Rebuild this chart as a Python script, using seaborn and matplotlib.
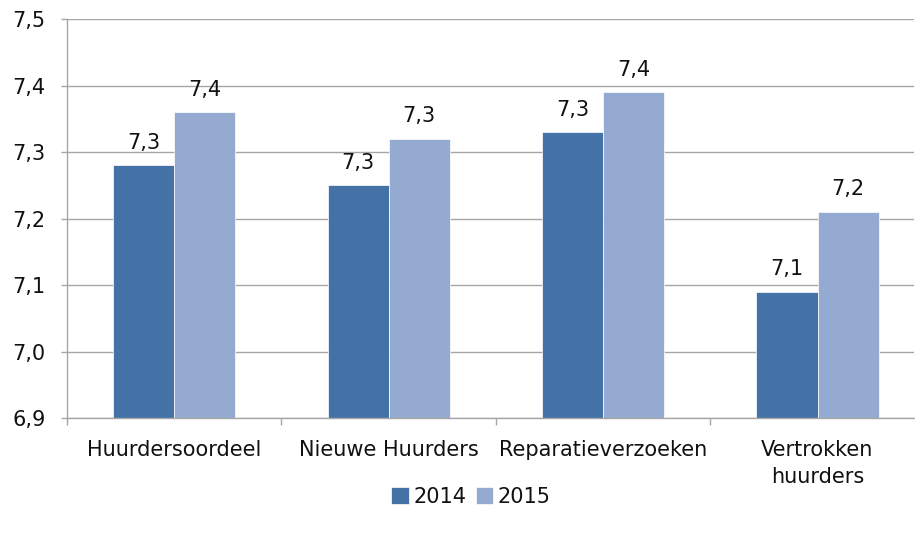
import numpy as np
import pandas as pd
import matplotlib
matplotlib.use("Agg")
import matplotlib.pyplot as plt
from matplotlib.ticker import FixedLocator, FuncFormatter
import seaborn as sns

categories = ["Huurdersoordeel", "Nieuwe Huurders", "Reparatieverzoeken", "Vertrokken\nhuurders"]
years = ["2014", "2015"]
scores_2014 = [7.28, 7.25, 7.33, 7.09]
scores_2015 = [7.36, 7.32, 7.39, 7.21]
bar_colors = ["#4472A7", "#95AAD0"]

df = pd.DataFrame({
    "categorie": categories * 2,
    "jaar": [years[0]] * 4 + [years[1]] * 4,
    "score": scores_2014 + scores_2015,
})


def nl(v):
    # round half up, decimal comma
    return f"{np.floor(v * 10 + 0.5 + 1e-9) / 10:.1f}".replace(".", ",")


sns.set_style("white")
plt.rcParams["font.family"] = ["DejaVu Sans"]
grey = "#a6a6a6"

fig = plt.figure(figsize=(9.15, 5.37), dpi=100)
ax = fig.add_axes([67 / 915, 1 - 418 / 537, (914 - 67) / 915, (418 - 19) / 537])

sns.barplot(data=df, x="categorie", y="score", hue="jaar", palette=bar_colors,
            width=0.57, ax=ax, saturation=1, errorbar=None,
            edgecolor="white", linewidth=0.5)

# bars start at 0, the y-limits cut them at 6,9
ax.set_ylim(6.9, 7.5)
ax.set_yticks(np.arange(6.9, 7.51, 0.1))
ax.yaxis.set_major_formatter(FuncFormatter(lambda v, p: nl(v)))
ax.yaxis.grid(True, color=grey, linewidth=1)
ax.set_axisbelow(True)

for cont in ax.containers:
    labels = [nl(b.get_height()) for b in cont]
    ax.bar_label(cont, labels=labels, padding=9, fontsize=15, color="#111111")

ax.set_xlim(-0.5, 3.45)
ax.xaxis.set_minor_locator(FixedLocator([-0.5, 0.5, 1.5, 2.5]))
ax.tick_params(axis="x", which="major", bottom=False, length=0, labelsize=15, pad=16,
               labelcolor="#111111")
ax.tick_params(axis="x", which="minor", bottom=True, length=5, color=grey, width=1)
ax.tick_params(axis="y", left=True, length=4.5, color=grey, width=1, labelsize=15, pad=11,
               labelcolor="#111111")
for t in ax.get_xticklabels():
    t.set_linespacing(1.45)

for s in ["top", "right"]:
    ax.spines[s].set_visible(False)
for s in ["left", "bottom"]:
    ax.spines[s].set_color(grey)
    ax.spines[s].set_linewidth(1)

ax.set_xlabel("")
ax.set_ylabel("")

handles, lbls = ax.get_legend_handles_labels()
ax.legend(handles, lbls, loc="center", bbox_to_anchor=(471 / 915, 1 - 497 / 537),
          bbox_transform=fig.transFigure, ncol=2, frameon=False, fontsize=15,
          handlelength=0.85, handleheight=0.85, handletextpad=0.2, columnspacing=0.45,
          labelcolor="#111111")

fig.savefig("out.png", dpi=100)
